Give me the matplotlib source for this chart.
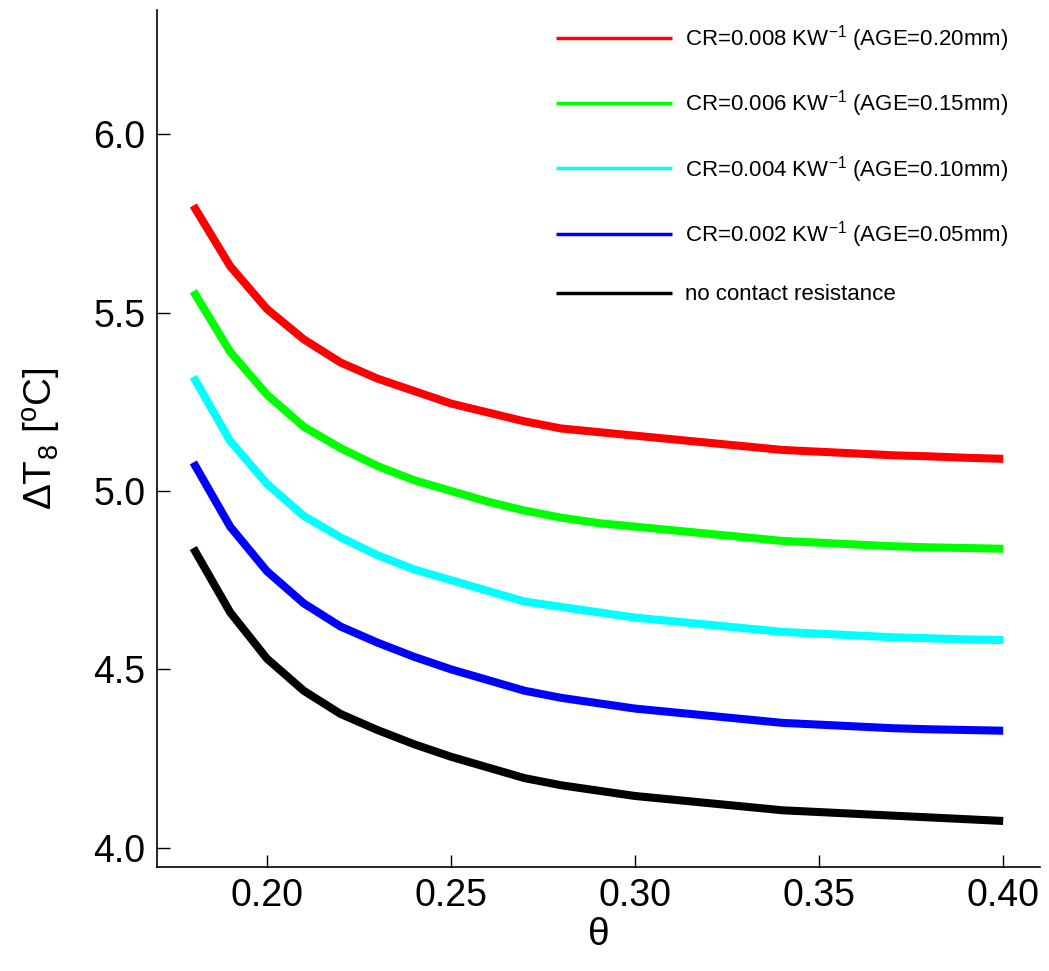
import matplotlib
matplotlib.use("Agg")
import matplotlib.pyplot as plt

plt.rcParams['font.family'] = ['Liberation Sans', 'DejaVu Sans']
plt.rcParams['mathtext.fontset'] = 'custom'
plt.rcParams['mathtext.rm'] = 'Liberation Sans'
plt.rcParams['mathtext.it'] = 'Liberation Sans'

theta = [0.18, 0.19, 0.20, 0.21, 0.22, 0.23, 0.24, 0.25, 0.26, 0.27, 0.28, 0.29,
         0.30, 0.31, 0.32, 0.33, 0.34, 0.35, 0.36, 0.37, 0.38, 0.39, 0.40]

dt_cr008 = [5.80, 5.63, 5.51, 5.425, 5.36, 5.315, 5.28, 5.245, 5.22, 5.195, 5.175, 5.165,
            5.155, 5.145, 5.135, 5.125, 5.115, 5.11, 5.105, 5.10, 5.097, 5.093, 5.09]
dt_cr006 = [5.56, 5.39, 5.27, 5.18, 5.12, 5.07, 5.03, 5.00, 4.97, 4.945, 4.925, 4.91,
            4.90, 4.89, 4.88, 4.87, 4.86, 4.855, 4.85, 4.845, 4.842, 4.84, 4.838]
dt_cr004 = [5.32, 5.14, 5.02, 4.93, 4.87, 4.82, 4.78, 4.75, 4.72, 4.69, 4.675, 4.66,
            4.645, 4.635, 4.625, 4.615, 4.605, 4.60, 4.595, 4.59, 4.587, 4.584, 4.582]
dt_cr002 = [5.08, 4.90, 4.775, 4.685, 4.62, 4.575, 4.535, 4.50, 4.47, 4.44, 4.42, 4.405,
            4.39, 4.38, 4.37, 4.36, 4.35, 4.345, 4.34, 4.335, 4.332, 4.33, 4.328]
dt_none = [4.84, 4.66, 4.53, 4.44, 4.375, 4.33, 4.29, 4.255, 4.225, 4.195, 4.175, 4.16,
           4.145, 4.135, 4.125, 4.115, 4.105, 4.10, 4.095, 4.09, 4.085, 4.08, 4.075]

series = [dt_cr008, dt_cr006, dt_cr004, dt_cr002, dt_none]
colors = ['#ff0000', '#00ff00', '#00ffff', '#0000ff', '#000000']
labels = ['CR=0.008 KW$^{-1}$ (AGE=0.20mm)',
          'CR=0.006 KW$^{-1}$ (AGE=0.15mm)',
          'CR=0.004 KW$^{-1}$ (AGE=0.10mm)',
          'CR=0.002 KW$^{-1}$ (AGE=0.05mm)',
          'no contact resistance']

fig = plt.figure(figsize=(10.49, 9.71), dpi=100)
ax = fig.add_axes([156.5 / 1049, 1 - 867 / 971, (1040 - 156.5) / 1049, (867 - 10) / 971])

for vals, c, lab in zip(series, colors, labels):
    ax.plot(theta, vals, color=c, lw=5.8, label=lab, solid_capstyle='butt')

ax.set_xlim(0.17, 0.41)
ax.set_ylim(3.946, 6.348)
ax.set_xticks([0.20, 0.25, 0.30, 0.35, 0.40])
ax.set_xticklabels(['0.20', '0.25', '0.30', '0.35', '0.40'])
ax.set_yticks([4.0, 4.5, 5.0, 5.5, 6.0])
ax.set_yticklabels(['4.0', '4.5', '5.0', '5.5', '6.0'])
ax.tick_params(direction='in', length=9, width=1, labelsize=27, pad=8)
ax.spines['top'].set_visible(False)
ax.spines['right'].set_visible(False)
for s in ['left', 'bottom']:
    ax.spines[s].set_linewidth(1.2)

ax.set_xlabel(r'$\theta$', fontsize=28, labelpad=2)
ax.set_ylabel(r'$\Delta$T$_8$ [$^{\mathrm{o}}$C]', fontsize=28, labelpad=22)

leg = ax.legend(loc='upper right', bbox_to_anchor=(0.982, 1.003), frameon=False,
                fontsize=16, handlelength=5.2, handletextpad=0.6,
                labelspacing=1.55, borderaxespad=0.3)
for h in leg.get_lines():
    h.set_linewidth(2.5)

fig.savefig('out.png', dpi=100)
